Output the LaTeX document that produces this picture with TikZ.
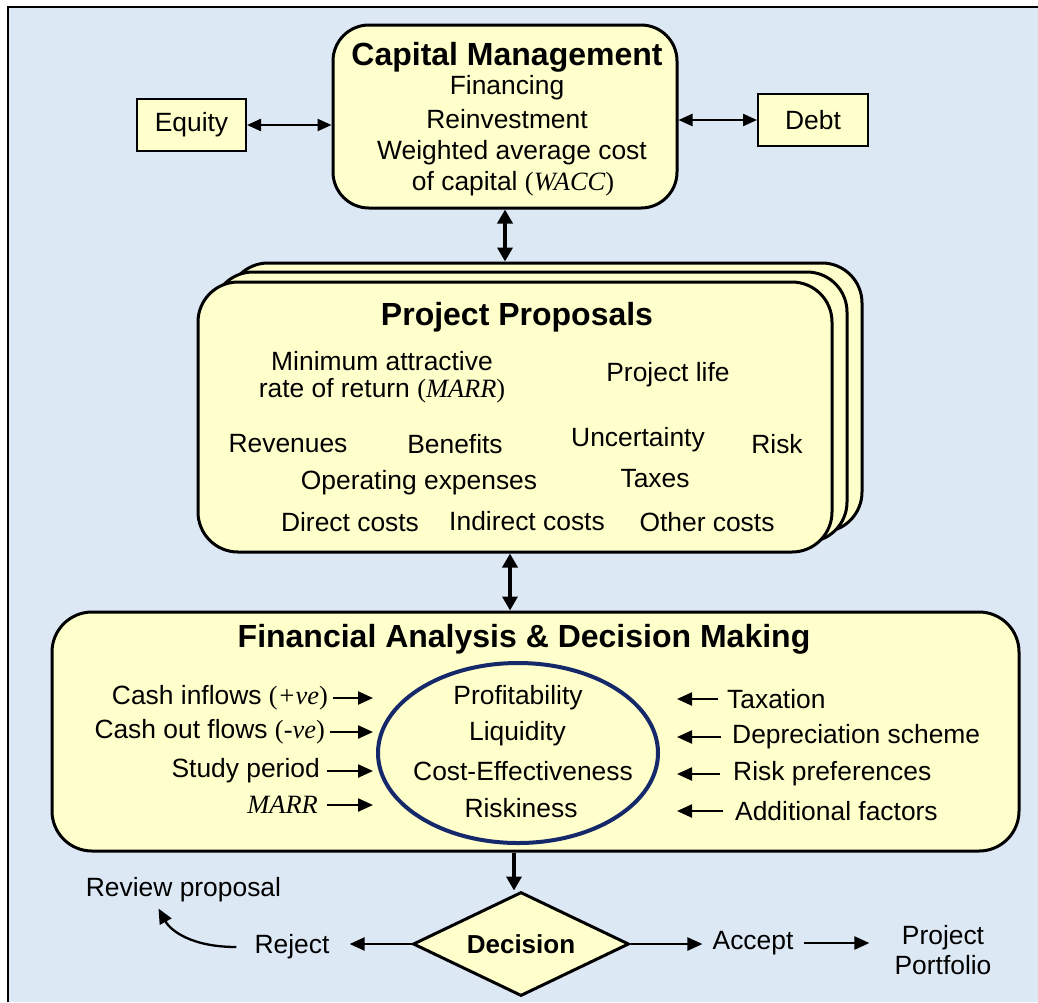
\documentclass[tikz,border=0pt]{standalone}
\usepackage{fontspec}
\setmainfont{Liberation Sans}
\newfontfamily\tmsfont{Liberation Serif}
\usetikzlibrary{arrows.meta,shapes.geometric}
\definecolor{paper}{HTML}{DDE8F5}
\definecolor{pad}{HTML}{FFFFCC}
\definecolor{navy}{HTML}{14286A}
\newcommand{\tit}[1]{{\tmsfont\itshape #1}}
\newcommand{\tup}[1]{{\tmsfont #1}}

\begin{document}
\begin{tikzpicture}[x=1pt,y=-1pt,
  font=\fontsize{26.4}{30}\selectfont,
  every node/.style={inner sep=0pt},
  panel/.style={draw, fill=pad, line width=3pt},
  tagbox/.style={draw, fill=pad, line width=2pt},
  head/.style={font=\fontsize{32}{36}\selectfont\bfseries},
  arw/.style={line width=2.3pt, -{Triangle[length=15pt,width=13pt]}},
  arwboth/.style={line width=2.3pt, {Triangle[length=14pt,width=12pt]}-{Triangle[length=14pt,width=12pt]}},
  arwbig/.style={line width=3.8pt, {Triangle[length=14pt,width=15pt]}-{Triangle[length=14pt,width=15pt]}},
  arwdown/.style={line width=3.8pt, -{Triangle[length=14pt,width=15pt]}},
]
% page and frame
\useasboundingbox (0,0) rectangle (1038,1002);
\fill[white] (0,0) rectangle (1038,1002);
\fill[paper] (8,7) rectangle (1038,1002);
\draw[line width=2.5pt] (8,1002) -- (8,7) -- (1038,7);

% capital management
\node[panel, rounded corners=36pt, minimum width=344, minimum height=183] (cap) at (505,116.5) {};
\node[head] (captitle) at (507,57) {Capital Management};
\node (capl1) at (507,88) {Financing};
\node (capl2) at (507,119) {Reinvestment};
\node (capl3) at (512,153) {Weighted average cost};
\node (capl4) at (513,184) {of capital \tup{(}\tit{WACC}\tup{)}};

\node[tagbox, minimum width=109, minimum height=52] (equity) at (191.5,125) {Equity};
\node[tagbox, minimum width=110, minimum height=52] (debt) at (813,120) {Debt};
\draw[arwboth] (equity.east) -- (equity.east -| cap.west);
\draw[arwboth] (debt.west -| cap.east) -- (debt.west);

% project proposals (stacked cards)
\node[panel, rounded corners=40pt, minimum width=634, minimum height=269] (back) at (545,397.5) {};
\node[panel, rounded corners=40pt, minimum width=634, minimum height=270] (middle) at (530,407) {};
\node[panel, rounded corners=40pt, minimum width=634, minimum height=270] (front) at (515,417) {};
\draw[arwbig] (cap.south) -- (cap.south |- back.north);

\node[head] (pptitle) at (517,317) {Project Proposals};
\node (pmarr1) at (382,361) {Minimum attractive};
\node (pmarr2) at (382,391) {rate of return \tup{(}\tit{MARR}\tup{)}};
\node (plife) at (668,375) {Project life};
\node (prev) at (288,444) {Revenues};
\node (pben) at (455,444) {Benefits};
\node (punc) at (638,440) {Uncertainty};
\node (prisk) at (777,444) {Risk};
\node (popex) at (419,483) {Operating expenses};
\node (ptax) at (655,479) {Taxes};
\node (pdir) at (350,522) {Direct costs};
\node (pind) at (527,521) {Indirect costs};
\node (poth) at (707,522) {Other costs};

% financial analysis
\node[panel, rounded corners=40pt, minimum width=967, minimum height=239] (fin) at (535.5,731.5) {};
\coordinate (ppout) at ([xshift=-5pt]front.south);
\draw[arwbig] (ppout) -- (ppout |- fin.north);
\node[head] (fintitle) at (524,639) {Financial Analysis \& Decision Making};

\node[ellipse, draw=navy, line width=4pt, minimum width=280, minimum height=180] (crit) at (518,753) {};
\node (c1) at (518,698) {Profitability};
\node (c2) at (517.5,734) {Liquidity};
\node (c3) at (523,771) {Cost-Effectiveness};
\node (c4) at (521,808) {Riskiness};

\node[anchor=east] (inflow) at (328,698) {Cash inflows \tup{(}\tit{+ve}\tup{)}};
\node[anchor=east] (outflow) at (325,732) {Cash out flows \tup{(}\tit{-ve}\tup{)}};
\node[anchor=east] (period) at (320,771) {Study period};
\node[anchor=east] (rate) at (318,805) {\tit{MARR}};
\coordinate (critL) at ([xshift=-3pt]crit.west);
\draw[arw] ([xshift=5pt]inflow.east) -- (inflow.east -| critL);
\draw[arw] ([xshift=5pt]outflow.east) -- (outflow.east -| critL);
\draw[arw] ([xshift=7pt]period.east) -- (period.east -| critL);
\draw[arw] ([xshift=9pt]rate.east) -- (rate.east -| critL);

\node[anchor=west] (tax) at (727,699) {Taxation};
\node[anchor=west] (depr) at (732,737) {Depreciation scheme};
\node[anchor=west] (riskpref) at (733,774) {Risk preferences};
\node[anchor=west] (extra) at (735,811) {Additional factors};
\coordinate (critR) at ([xshift=17pt]crit.east);
\draw[arw] ([xshift=-9pt]tax.west) -- (tax.west -| critR);
\draw[arw] ([xshift=-11pt]depr.west) -- (depr.west -| critR);
\draw[arw] ([xshift=-13pt]riskpref.west) -- (riskpref.west -| critR);
\draw[arw] ([xshift=-12pt]extra.west) -- (extra.west -| critR);

% decision
\node[diamond, draw, fill=pad, line width=3pt, aspect=2.08,
      minimum width=216, minimum height=104,
      font=\fontsize{26}{30}\selectfont\bfseries] (dec) at (521,944) {Decision};
\coordinate (decin) at ([xshift=-7pt]dec.north);
\draw[arwdown] (decin |- fin.south) -- (decin);

\node (reject) at (292,947) {Reject};
\coordinate (rejtip) at ([xshift=20pt]reject.east);
\draw[arw] (dec.west) -- (dec.west -| rejtip);
\node (review) at (183.5,890) {Review proposal};
\draw[arw] ([xshift=-18pt]reject.west) .. controls +(-45,0) and +(12,22) .. ([xshift=-25pt,yshift=-6pt]review.south);

\node[inner xsep=10pt] (accept) at (753,943) {Accept};
\draw[arw] (dec.east) -- (dec.east -| accept.west);
\node[align=center] (portfolio) at (943,950) {Project\\Portfolio};
\coordinate (pfin) at ([xshift=-25pt]portfolio.west);
\draw[arw] (accept.east) -- (accept.east -| pfin);
\end{tikzpicture}
\end{document}
